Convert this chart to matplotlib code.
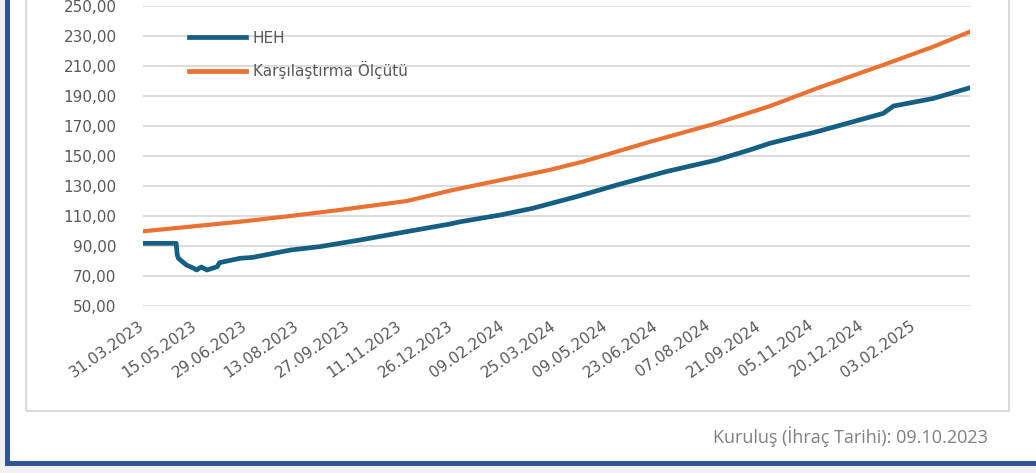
import numpy as np
import pandas as pd
import matplotlib
matplotlib.use('Agg')
import matplotlib.pyplot as plt
import matplotlib.dates as mdates
from matplotlib.ticker import FuncFormatter
from matplotlib.patches import Rectangle

plt.rcParams['font.family'] = ['DejaVu Sans']

# HEH fund values
heh_dates = ['2023-03-31', '2023-04-29', '2023-04-30', '2023-05-01', '2023-05-08',
             '2023-05-14', '2023-05-17', '2023-05-21', '2023-05-26', '2023-06-04',
             '2023-06-06', '2023-06-24', '2023-07-05', '2023-07-11', '2023-08-07',
             '2023-09-02', '2023-10-07', '2023-11-17', '2023-12-25', '2024-01-03',
             '2024-02-07', '2024-03-06', '2024-04-14', '2024-05-19', '2024-07-01',
             '2024-08-14', '2024-09-12', '2024-09-30', '2024-11-10', '2025-01-07',
             '2025-01-16', '2025-02-20', '2025-03-24']
heh_values = [91.8, 91.8, 84.0, 81.8, 77.3,
              75.3, 74.0, 76.0, 74.0, 76.2,
              78.9, 81.8, 82.4, 83.3, 87.3,
              89.6, 94.0, 99.6, 104.7, 106.2,
              110.7, 115.1, 123.0, 130.7, 139.6,
              147.3, 154.0, 158.5, 166.2, 178.4,
              183.3, 188.4, 195.5]

# benchmark (Karşılaştırma Ölçütü)
bench_dates = ['2023-03-31', '2023-06-24', '2023-08-07', '2023-09-19', '2023-11-17',
               '2023-12-25', '2024-01-03', '2024-03-21', '2024-04-19', '2024-06-17',
               '2024-08-14', '2024-09-30', '2024-11-10', '2025-01-07', '2025-02-20',
               '2025-03-24']
bench_values = [99.8, 106.2, 110.0, 114.0, 120.0,
                126.9, 128.4, 140.7, 146.2, 159.5,
                171.8, 183.3, 195.1, 210.7, 222.9,
                232.9]

y_ticks = [50, 70, 90, 110, 130, 150, 170, 190, 210, 230, 250]
tick_start = '2023-03-31'
tick_count = 16
footer = 'Kuruluş (İhraç Tarihi): 09.10.2023'

W, H = 1036, 473
fig = plt.figure(figsize=(W / 100, H / 100), dpi=100)
fig.patch.set_facecolor('white')

# frame decorations (pixel coords converted to figure fraction)
def px_rect(x0, y0, x1, y1, **kw):
    r = Rectangle((x0 / W, 1 - y1 / H), (x1 - x0) / W, (y1 - y0) / H,
                  transform=fig.transFigure, **kw)
    fig.add_artist(r)

px_rect(0, 0, 5, H, facecolor='#f0f0f0', edgecolor='none')
px_rect(0, 466, W, H, facecolor='#f0f0f0', edgecolor='none')
px_rect(5, -5, 10, 466, facecolor='#2f5597', edgecolor='none')
px_rect(5, 461, W, 466, facecolor='#2f5597', edgecolor='none')
px_rect(26, -10, 1009, 411, facecolor='none', edgecolor='#d9d9d9', linewidth=1.5)

ax = fig.add_axes([143 / W, 1 - 306 / H, (970 - 143) / W, 300 / H])
ax.set_facecolor('none')

hd = pd.to_datetime(heh_dates)
bd = pd.to_datetime(bench_dates)
ax.plot(bd, bench_values, color='#E97132', linewidth=3.0, zorder=3)
ax.plot(hd, heh_values, color='#156082', linewidth=3.4, zorder=4)

ax.set_ylim(50, 250)
ax.set_xlim(hd[0], hd[-1])
ax.set_yticks(y_ticks)
ax.yaxis.set_major_formatter(FuncFormatter(lambda v, p: f'{v:.2f}'.replace('.', ',')))
ax.grid(axis='y', color='#d9d9d9', linewidth=1.3)
ax.set_axisbelow(True)
for s in ax.spines.values():
    s.set_visible(False)

ticks = pd.date_range(tick_start, periods=tick_count, freq='45D')
ax.set_xticks(ticks)
ax.xaxis.set_major_formatter(mdates.DateFormatter('%d.%m.%Y'))
ax.tick_params(axis='both', length=0, colors='#595959', labelsize=11)
ax.tick_params(axis='y', pad=19)
ax.tick_params(axis='x', pad=13)
for lab in ax.get_xticklabels():
    lab.set_rotation(35)
    lab.set_ha('right')
    lab.set_va('center')
    lab.set_rotation_mode('anchor')

# legend
h1, = ax.plot([], [], color='#156082', linewidth=3.4)
h2, = ax.plot([], [], color='#E97132', linewidth=3.4)
leg = ax.legend([h1, h2], ['HEH', 'Karşılaştırma Ölçütü'], loc='upper left',
                bbox_to_anchor=(181 / W, 1 - 23 / H), bbox_transform=fig.transFigure,
                frameon=False, borderpad=0, handlelength=3.75, handletextpad=0.45,
                labelspacing=1.0, fontsize=11, labelcolor='#595959')

fig.text(988 / W, 1 - 437 / H, footer, ha='right', va='center',
         color='#808080', fontsize=13, family='Open Sans')

fig.savefig('out.png', dpi=100)
